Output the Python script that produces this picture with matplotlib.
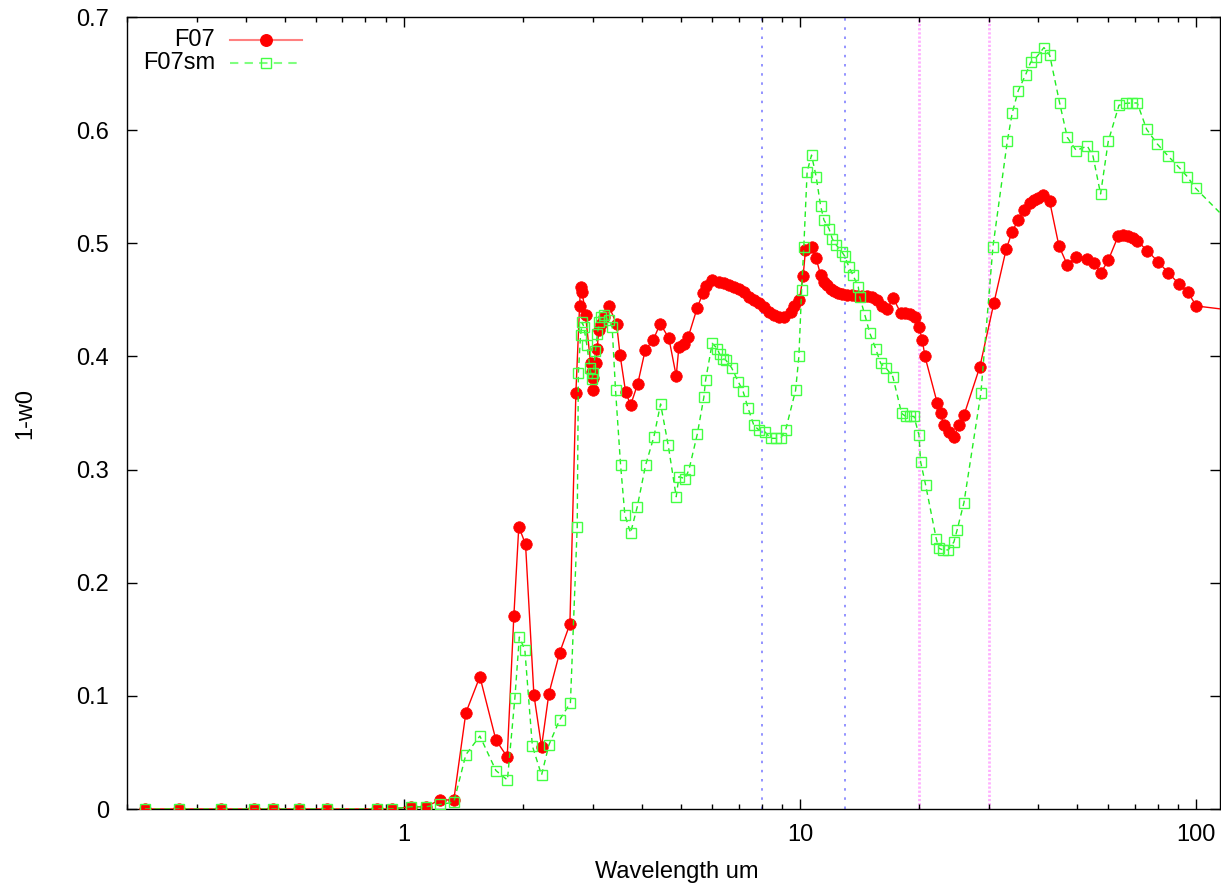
import matplotlib
matplotlib.use("Agg")
import matplotlib.pyplot as plt
from matplotlib.ticker import FixedLocator, NullFormatter, LogLocator

plt.rcParams['font.family'] = ['Liberation Sans', 'DejaVu Sans']

# ---- data (wavelength in um, 1 - single scattering albedo) ----
wl_f07 = [0.222, 0.270, 0.345, 0.418, 0.467, 0.543, 0.639, 0.855, 0.933, 1.041,
          1.137, 1.233, 1.337, 1.434, 1.556, 1.708, 1.824, 1.896, 1.951, 2.029,
          2.130, 2.227, 2.324, 2.473, 2.626, 2.719, 2.778, 2.794, 2.820, 2.876,
          2.961, 2.989, 2.998, 3.006, 3.048, 3.077, 3.107, 3.138, 3.199, 3.293,
          3.446, 3.516, 3.629, 3.737, 3.895, 4.069, 4.262, 4.440, 4.669, 4.872,
          4.949, 5.094, 5.223, 5.505, 5.689, 5.779, 6.006, 6.245, 6.429, 6.619,
          6.813, 7.015, 7.221, 7.434, 7.653, 7.880, 8.111, 8.350, 8.596, 8.851,
          9.112, 9.473, 9.685, 9.970, 10.19, 10.33, 10.70, 10.99, 11.28, 11.50,
          11.72, 11.96, 12.19, 12.50, 12.79, 13.17, 13.56, 13.96, 14.37, 14.79,
          15.23, 15.67, 16.14, 16.61, 17.17, 17.96, 18.42, 18.96, 19.52, 19.98,
          20.37, 20.69, 22.23, 22.67, 23.10, 23.78, 24.48, 25.20, 25.95, 28.48,
          30.90, 33.19, 34.37, 35.59, 36.79, 38.03, 38.99, 39.98, 41.08, 42.72,
          45.09, 47.32, 49.86, 53.17, 55.28, 57.44, 60.05, 63.65, 65.42, 67.45,
          69.33, 71.09, 75.34, 80.17, 85.13, 90.60, 95.46, 100.2, 128.4]
f07 = [0, 0, 0, 0, 0, 0, 0, 0, 0, 0.002,
       0.002, 0.008, 0.008, 0.085, 0.117, 0.061, 0.046, 0.171, 0.2495, 0.234,
       0.101, 0.055, 0.102, 0.138, 0.1635, 0.368, 0.4446, 0.4617, 0.457, 0.4366,
       0.394, 0.3866, 0.3807, 0.370, 0.394, 0.407, 0.4234, 0.429, 0.435, 0.4446,
       0.4285, 0.401, 0.369, 0.357, 0.3757, 0.4057, 0.4145, 0.429, 0.416, 0.3827,
       0.4086, 0.411, 0.417, 0.443, 0.4558, 0.462, 0.4675, 0.466, 0.4646, 0.463,
       0.4616, 0.460, 0.457, 0.4528, 0.450, 0.447, 0.444, 0.4395, 0.4366, 0.435,
       0.435, 0.4395, 0.4445, 0.450, 0.471, 0.494, 0.497, 0.4867, 0.472, 0.466,
       0.463, 0.460, 0.458, 0.4563, 0.455, 0.454, 0.454, 0.4537, 0.4537, 0.4537,
       0.4528, 0.450, 0.4446, 0.4417, 0.452, 0.4387, 0.438, 0.4375, 0.435, 0.426,
       0.4145, 0.400, 0.3586, 0.3497, 0.339, 0.3335, 0.329, 0.339, 0.348, 0.391,
       0.4475, 0.495, 0.5103, 0.521, 0.5294, 0.536, 0.5383, 0.540, 0.543, 0.537,
       0.4976, 0.481, 0.4876, 0.486, 0.483, 0.4735, 0.485, 0.5065, 0.5073, 0.506,
       0.5044, 0.502, 0.4935, 0.4837, 0.474, 0.464, 0.4567, 0.4446, 0.440]

wl_sm = [0.222, 0.270, 0.345, 0.418, 0.467, 0.543, 0.639, 0.855, 0.933, 1.041,
         1.137, 1.233, 1.337, 1.434, 1.556, 1.708, 1.826, 1.907, 1.957, 2.021,
         2.111, 2.227, 2.324, 2.473, 2.634, 2.740, 2.759, 2.794, 2.823, 2.848,
         2.898, 2.950, 2.984, 3.009, 3.045, 3.081, 3.116, 3.153, 3.199, 3.293,
         3.357, 3.424, 3.526, 3.614, 3.737, 3.884, 4.078, 4.279, 4.449, 4.650,
         4.872, 4.949, 5.124, 5.245, 5.505, 5.722, 5.779, 6.006, 6.184, 6.270,
         6.392, 6.493, 6.723, 6.986, 7.179, 7.403, 7.653, 7.880, 8.158, 8.433,
         8.682, 8.939, 9.203, 9.752, 9.942, 10.10, 10.23, 10.43, 10.70, 10.99,
         11.28, 11.50, 11.84, 12.07, 12.35, 12.75, 12.97, 13.30, 13.61, 14.04,
         14.15, 14.59, 15.00, 15.53, 15.99, 16.52, 17.17, 18.06, 18.49, 18.92,
         19.41, 19.98, 20.17, 20.77, 22.09, 22.44, 22.97, 23.69, 24.48, 24.96,
         25.95, 28.65, 30.72, 33.39, 34.37, 35.59, 37.15, 38.24, 39.52, 41.32,
         42.72, 45.27, 47.32, 49.86, 53.17, 54.96, 57.44, 60.05, 63.91, 66.45,
         68.80, 71.09, 75.08, 79.86, 85.13, 90.60, 95.06, 99.8, 128.4]
f07sm = [0, 0, 0, 0, 0, 0, 0, 0, 0, 0.002,
         0.002, 0.004, 0.006, 0.048, 0.0645, 0.034, 0.0256, 0.098, 0.152, 0.1405,
         0.0557, 0.030, 0.0566, 0.0787, 0.094, 0.2495, 0.3857, 0.419, 0.430, 0.426,
         0.410, 0.390, 0.380, 0.385, 0.405, 0.420, 0.430, 0.435, 0.4366, 0.432,
         0.426, 0.370, 0.304, 0.260, 0.244, 0.267, 0.304, 0.329, 0.358, 0.3217,
         0.276, 0.2937, 0.292, 0.2996, 0.331, 0.364, 0.379, 0.4116, 0.407, 0.402,
         0.398, 0.397, 0.390, 0.3777, 0.3697, 0.354, 0.339, 0.335, 0.3335, 0.3276,
         0.3276, 0.3276, 0.335, 0.370, 0.400, 0.4587, 0.497, 0.5633, 0.578, 0.559,
         0.533, 0.5206, 0.513, 0.504, 0.4985, 0.4926, 0.4888, 0.479, 0.472, 0.4616,
         0.4528, 0.4366, 0.421, 0.407, 0.394, 0.3895, 0.382, 0.3497, 0.347, 0.347,
         0.347, 0.3306, 0.307, 0.2864, 0.239, 0.2304, 0.229, 0.229, 0.236, 0.247,
         0.2707, 0.368, 0.497, 0.590, 0.6154, 0.635, 0.649, 0.660, 0.6643, 0.673,
         0.6664, 0.624, 0.5937, 0.582, 0.586, 0.577, 0.5436, 0.590, 0.622, 0.6237,
         0.624, 0.624, 0.6007, 0.5878, 0.577, 0.567, 0.559, 0.5486, 0.510]

band_edges_blue = [8, 13]
band_edges_violet = [20, 30]

y_ticks = [0, 0.1, 0.2, 0.3, 0.4, 0.5, 0.6, 0.7]
y_ticklabels = ["0", "0.1", "0.2", "0.3", "0.4", "0.5", "0.6", "0.7"]
x_ticks = [1, 10, 100]
x_ticklabels = ["1", "10", "100"]

# ---- figure ----
W, H = 1221, 888
fig = plt.figure(figsize=(W / 100, H / 100), dpi=100)
ax = fig.add_axes([127 / W, 79 / H, 1093 / W, 792 / H])

for xv in band_edges_blue:
    ax.axvline(xv, color='#8080ff', lw=1.2, ls=(0, (1.5, 4)), zorder=1)
for xv in band_edges_violet:
    ax.axvline(xv, color='#ffb0ff', lw=2.0, ls=(0, (0.8, 0.7)), zorder=1)

ax.plot(wl_f07, f07, color='#ff0000', lw=1.0, marker='o', ms=8.3,
        mfc='#ff0000', mec='#ff0000', mew=0.5, zorder=3, clip_on=True)
ax.plot(wl_sm, f07sm, color='#22ee22', lw=1.0, ls=(0, (4, 3)), marker='s',
        ms=7.6, mfc='none', mec='#44ff44', mew=1.0, zorder=4, clip_on=True)

ax.set_xscale('log')
ax.set_xlim(0.2, 115)
ax.set_ylim(0, 0.7)

ax.set_yticks(y_ticks)
ax.set_yticklabels(y_ticklabels)
ax.xaxis.set_major_locator(FixedLocator(x_ticks))
ax.set_xticklabels(x_ticklabels)
ax.xaxis.set_minor_locator(LogLocator(base=10, subs=range(2, 10)))
ax.xaxis.set_minor_formatter(NullFormatter())

ax.tick_params(axis='both', which='major', direction='in', length=7, width=1,
               top=True, right=True, labelsize=17, color='black')
ax.tick_params(axis='x', which='major', pad=11)
ax.tick_params(axis='y', which='major', pad=13)
ax.tick_params(axis='x', which='minor', direction='in', length=3.5, width=1,
               top=True, bottom=True)
for s in ax.spines.values():
    s.set_linewidth(1.0)
    s.set_color('black')

ax.set_xlabel('Wavelength um', fontsize=17)
ax.set_ylabel('1-w0', fontsize=17)
ax.xaxis.set_label_coords(0.503, -0.066)
ax.yaxis.set_label_coords(-0.083, 0.5)

# ---- legend (gnuplot style: right-aligned text, sample to the right) ----
leg_text_x = 0.0805
leg_line_x0, leg_line_x1, leg_mark_x = 0.0942, 0.1601, 0.1272
for yy, label, kw in [
        (0.971, 'F07', dict(color='#ff8080', lw=1.5, ls='-')),
        (0.942, 'F07sm', dict(color='#80ff80', lw=1.5, ls=(0, (4, 3))))]:
    ax.text(leg_text_x, yy, label, transform=ax.transAxes, ha='right',
            va='center', fontsize=17)
    ax.plot([leg_line_x0, leg_line_x1], [yy, yy], transform=ax.transAxes,
            clip_on=False, zorder=5, **kw)
ax.plot([leg_mark_x], [0.971], transform=ax.transAxes, marker='o', ms=8.3,
        color='#ff0000', ls='none', clip_on=False, zorder=6)
ax.plot([leg_mark_x], [0.942], transform=ax.transAxes, marker='s', ms=7.6,
        mfc='none', mec='#44ff44', mew=1.0, ls='none', clip_on=False, zorder=6)

fig.savefig('out.png', dpi=100)
